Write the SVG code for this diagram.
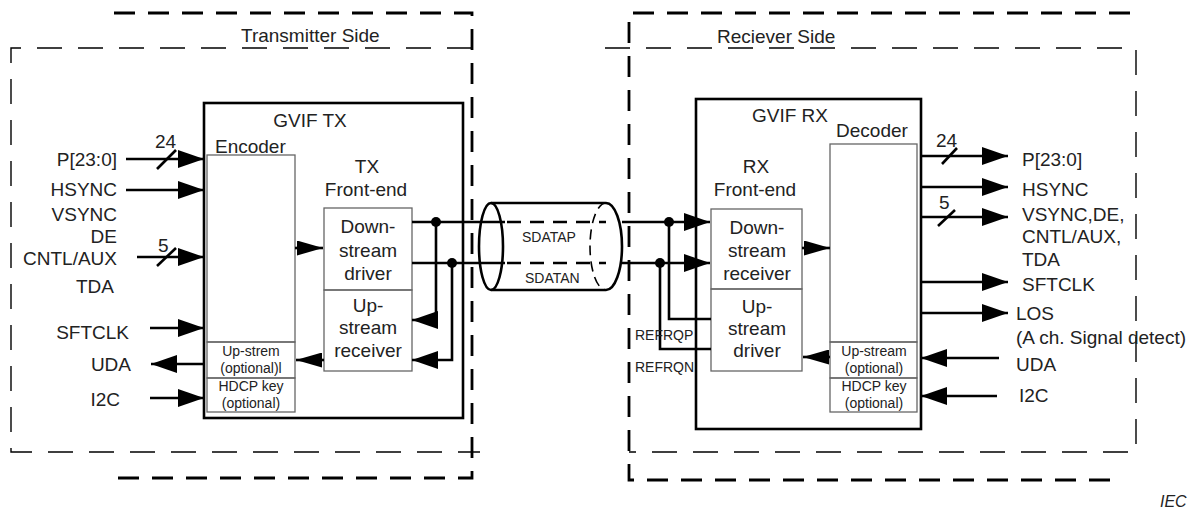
<svg xmlns="http://www.w3.org/2000/svg" width="1195" height="516" viewBox="0 0 1195 516">
<style>
text{font-family:"Liberation Sans",Arial,sans-serif;fill:#222;font-size:19px}
.sm{font-size:14px}
.mid{text-anchor:middle}
.end{text-anchor:end}
.thick{fill:none;stroke:#000;stroke-width:2.8;stroke-dasharray:21 13}
.thin{fill:none;stroke:#000;stroke-width:1.4;stroke-dasharray:25 16}
.blk{fill:none;stroke:#000;stroke-width:2.6}
.box{fill:none;stroke:#666;stroke-width:1.3}
.ln{fill:none;stroke:#000;stroke-width:2.6}
.arr{marker-end:url(#ah)}
.arrs{marker-end:url(#as)}
.dash{fill:none;stroke:#000;stroke-width:2.4;stroke-dasharray:14 9}
.dot{fill:#000}
</style>
<defs>
<marker id="ah" viewBox="0 0 26 18" refX="26" refY="9" markerWidth="26" markerHeight="18" markerUnits="userSpaceOnUse" orient="auto"><path d="M0,0 L26,9 L0,18 z" fill="#000"/></marker>
<marker id="as" viewBox="0 0 26 15" refX="26" refY="7.5" markerWidth="26" markerHeight="15" markerUnits="userSpaceOnUse" orient="auto"><path d="M0,0 L26,7.5 L0,15 z" fill="#000"/></marker>
</defs>

<g id="transmitter-side">
<path class="thick" d="M114,13 H472 V478 H115"/>
<path class="thin" d="M472,48 H11 V452 H480"/>
<text x="241" y="42">Transmitter Side</text>
</g>

<g id="receiver-side">
<path class="thick" d="M1130,13 H629 V480 H1120"/>
<path class="thin" d="M605,48 H1136 V452 H629"/>
<text x="717" y="43">Reciever Side</text>
</g>

<g id="gvif-tx">
<rect class="blk" x="204" y="103" width="259" height="315"/>
<text class="mid" x="310" y="127">GVIF TX</text>
</g>
<g id="encoder">
<rect class="box" x="207" y="155" width="88" height="187"/>
<text x="215" y="153">Encoder</text>
</g>
<g id="tx-upstream">
<rect class="box" x="207" y="342" width="88" height="36"/>
<text class="sm mid" x="251" y="356">Up-strem</text>
<text class="sm mid" x="251" y="373">(optional)l</text>
</g>
<g id="tx-hdcp">
<rect class="box" x="207" y="378" width="88" height="34"/>
<text class="sm mid" x="251" y="391">HDCP key</text>
<text class="sm mid" x="251" y="408">(optional)</text>
</g>
<g id="tx-frontend">
<text class="mid" x="367" y="173">TX</text>
<text class="mid" x="366" y="196">Front-end</text>
</g>
<g id="downstream-driver">
<rect class="box" x="324" y="208" width="88" height="82"/>
<text class="mid" x="368" y="233">Down-</text>
<text class="mid" x="368" y="257">stream</text>
<text class="mid" x="368" y="280">driver</text>
</g>
<g id="upstream-receiver">
<rect class="box" x="324" y="290" width="88" height="81"/>
<text class="mid" x="368" y="312">Up-</text>
<text class="mid" x="368" y="334">stream</text>
<text class="mid" x="368" y="357">receiver</text>
</g>

<g id="cable">
<ellipse class="blk" cx="491" cy="246.5" rx="12" ry="43.5"/>
<path class="blk" d="M491,203 H606 M491,290 H606"/>
<path class="blk" d="M606,203 A16,43.5 0 0 1 606,290"/>
<path fill="none" stroke="#000" stroke-width="1.6" stroke-dasharray="10 6" d="M606,203 A16,43.5 0 0 0 606,290"/>
<text class="sm" x="522" y="242">SDATAP</text>
<text class="sm" x="525" y="283">SDATAN</text>
</g>

<g id="gvif-rx">
<rect class="blk" x="696" y="99" width="225" height="330"/>
<text class="mid" x="790" y="122">GVIF RX</text>
</g>
<g id="decoder">
<rect class="box" x="830" y="144" width="87" height="198"/>
<text class="mid" x="872" y="137">Decoder</text>
</g>
<g id="rx-upstream">
<rect class="box" x="830" y="342" width="87" height="36"/>
<text class="sm mid" x="874" y="356">Up-stream</text>
<text class="sm mid" x="874" y="373">(optional)</text>
</g>
<g id="rx-hdcp">
<rect class="box" x="830" y="378" width="87" height="34"/>
<text class="sm mid" x="874" y="391">HDCP key</text>
<text class="sm mid" x="874" y="408">(optional)</text>
</g>
<g id="rx-frontend">
<text class="mid" x="756" y="173">RX</text>
<text class="mid" x="755" y="196">Front-end</text>
</g>
<g id="downstream-receiver">
<rect class="box" x="711" y="209" width="91" height="80"/>
<text class="mid" x="757" y="234">Down-</text>
<text class="mid" x="757" y="257">stream</text>
<text class="mid" x="757" y="280">receiver</text>
</g>
<g id="upstream-driver">
<rect class="box" x="711" y="289" width="91" height="82"/>
<text class="mid" x="757" y="313">Up-</text>
<text class="mid" x="757" y="335">stream</text>
<text class="mid" x="757" y="357">driver</text>
</g>

<g id="connectors">
<!-- TX inputs -->
<path class="ln arr" d="M126,159 H204"/>
<path class="ln" d="M157,169 L176,150"/>
<path class="ln arr" d="M126,190 H204"/>
<path class="ln arr" d="M137,257 H204"/>
<path class="ln" d="M157,266 L176,248"/>
<path class="ln arr" d="M150,328 H204"/>
<path class="ln arr" d="M204,364 H151"/>
<path class="ln arr" d="M150,398 H204"/>
<!-- TX internal -->
<path class="ln arrs" d="M295,248 H323"/>
<path class="ln arrs" d="M324,360 H296"/>
<!-- differential pair -->
<path class="ln" d="M412,222 H505 M412,263 H505"/>
<path class="dash" d="M507,222 H606 M507,263 H606"/>
<path class="ln arr" d="M622,222 H710"/>
<path class="ln arr" d="M622,263 H710"/>
<path class="ln arr" d="M436,222 V320 H412"/>
<path class="ln arr" d="M452,263 V360 H412"/>
<circle class="dot" cx="436" cy="222" r="5"/>
<circle class="dot" cx="452" cy="263" r="5"/>
<path class="ln" d="M669,222 V319 H711"/>
<path class="ln" d="M660,263 V349 H711"/>
<circle class="dot" cx="669" cy="222" r="5"/>
<circle class="dot" cx="660" cy="263" r="5"/>
<!-- RX internal -->
<path class="ln arrs" d="M802,248 H830"/>
<path class="ln arrs" d="M830,357 H803"/>
<!-- RX outputs -->
<path class="ln arr" d="M921,156 H1008"/>
<path class="ln" d="M942,164 L957,148"/>
<path class="ln arr" d="M921,187 H1008"/>
<path class="ln arr" d="M921,217 H1008"/>
<path class="ln" d="M938,226 L955,210"/>
<path class="ln arr" d="M921,282 H1008"/>
<path class="ln arr" d="M921,313 H1008"/>
<path class="ln arr" d="M999,358 H921"/>
<path class="ln arr" d="M997,396 H921"/>
</g>

<g id="labels">
<text class="end" x="117" y="166">P[23:0]</text>
<text x="155" y="148">24</text>
<text class="end" x="117" y="196">HSYNC</text>
<text class="end" x="117" y="221">VSYNC</text>
<text class="end" x="117" y="243">DE</text>
<text class="end" x="117" y="265">CNTL/AUX</text>
<text x="158" y="252">5</text>
<text class="end" x="114" y="293">TDA</text>
<text class="end" x="129" y="339">SFTCLK</text>
<text class="end" x="131" y="371">UDA</text>
<text class="end" x="120" y="406">I2C</text>
<text class="sm" x="635" y="340">REFRQP</text>
<text class="sm" x="635" y="372">REFRQN</text>
<text x="936" y="147">24</text>
<text x="939" y="209">5</text>
<text x="1022" y="166">P[23:0]</text>
<text x="1022" y="196">HSYNC</text>
<text x="1022" y="221">VSYNC,DE,</text>
<text x="1022" y="243">CNTL/AUX,</text>
<text x="1022" y="266">TDA</text>
<text x="1022" y="291">SFTCLK</text>
<text x="1016" y="320">LOS</text>
<text x="1016" y="344">(A ch. Signal detect)</text>
<text x="1016" y="371">UDA</text>
<text x="1019" y="402">I2C</text>
<text x="1160" y="507" style="font-size:16px;font-style:italic">IEC</text>
</g>
</svg>
